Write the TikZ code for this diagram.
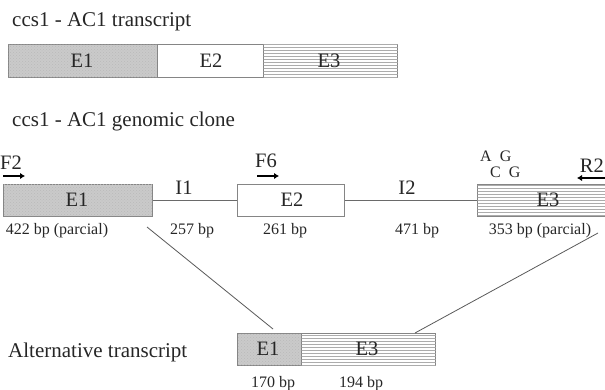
\documentclass[tikz,border=0pt]{standalone}
\usepackage{fontspec}
\setmainfont{Liberation Serif}
\usetikzlibrary{patterns,arrows.meta}
\definecolor{txt}{HTML}{262626}
\definecolor{edge}{HTML}{858585}
\definecolor{dotfill}{HTML}{CACACA}
\tikzset{
  ttl/.style={anchor=base west, inner sep=0pt, text=txt, font=\fontsize{21}{24}\selectfont},
  lbl/.style={inner sep=0pt, text=txt, font=\fontsize{20.5}{24}\selectfont},
  small/.style={anchor=base, inner sep=0pt, text=txt, font=\fontsize{16}{19}\selectfont},
  exon/.style={draw=edge, line width=1.2pt, inner sep=0pt, anchor=north west},
  dotbox/.style={exon, fill=dotfill, postaction={pattern=crosshatch dots, pattern color=gray!55}},
  linebox/.style={exon, fill=white, postaction={pattern=horizontal lines, pattern color=gray!65}},
  plainbox/.style={exon, fill=white},
  intron/.style={draw=edge!80!black, line width=0.9pt},
  diag/.style={draw=gray!70!black, line width=0.8pt},
  primer/.style={line width=2.8pt, -{Latex[length=5pt,width=6.5pt]}, draw=black},
}
\begin{document}
\begin{tikzpicture}[x=1pt,y=-1pt]
\useasboundingbox (0,0) rectangle (605,390);
\clip (0,0) rectangle (605,390);
% --- transcript
\node[ttl] (t1) at (12,27) {ccs1 - AC1 transcript};
\node[dotbox, minimum width=149pt, minimum height=33pt] (te1) at (8,44) {};
\node[plainbox, minimum width=106pt, minimum height=33pt] (te2) at (157,44) {};
\node[linebox, minimum width=134pt, minimum height=33pt] (te3) at (263,44) {};
\node[lbl] (te1l) at (82,61) {E1};
\node[lbl] (te2l) at (211,61) {E2};
\node[lbl] (te3l) at (329,61) {E3};
% --- genomic clone
\node[ttl] (t2) at (12,127) {ccs1 - AC1 genomic clone};
\node[dotbox, minimum width=149pt, minimum height=32pt] (ge1) at (3,184) {};
\node[plainbox, minimum width=107pt, minimum height=32pt] (ge2) at (237,184) {};
\node[linebox, minimum width=140pt, minimum height=32pt] (ge3) at (477,184) {};
\draw[intron] (ge1.east) -- (ge2.west);
\draw[intron] (ge2.east) -- (ge3.west);
\node[lbl] (ge1l) at (77,200) {E1};
\node[lbl] (ge2l) at (292,200) {E2};
\node[lbl] (ge3l) at (548,200) {E3};
\node[lbl, anchor=base] (i1) at (184,195) {I1};
\node[lbl, anchor=base] (i2) at (407,195) {I2};
\node[small] (b1) at (57,235) {422 bp (parcial)};
\node[small] (b2) at (192,235) {257 bp};
\node[small] (b3) at (285,235) {261 bp};
\node[small] (b4) at (417,235) {471 bp};
\node[small] (b5) at (540,235) {353 bp (parcial)};
% primers
\node[lbl, anchor=base west] (f2) at (0,170) {F2};
\coordinate (f2a) at (3,176); \coordinate (f2b) at (25,176);
\draw[primer] (f2a) -- (f2b);
\node[lbl, anchor=base west] (f6) at (255,168) {F6};
\coordinate (f6a) at (257,176); \coordinate (f6b) at (279,176);
\draw[primer] (f6a) -- (f6b);
\node[lbl, anchor=base east] (r2) at (604,173) {R2};
\coordinate (r2a) at (606,178); \coordinate (r2b) at (577,178);
\draw[primer] (r2a) -- (r2b);
\node[small, anchor=base west] (ag) at (480,162) {A\ \ G};
\node[small, anchor=base west] (cg) at (490,178) {C\ \ G};
% --- alternative transcript
\node[ttl] (t3) at (8,357) {Alternative transcript};
\node[dotbox, minimum width=64pt, minimum height=32pt] (ae1) at (237,333) {};
\node[linebox, minimum width=134pt, minimum height=32pt] (ae3) at (301,333) {};
\node[lbl] (ae1l) at (268,349) {E1};
\node[lbl] (ae3l) at (367,349) {E3};
\node[small] (c1) at (273,387) {170 bp};
\node[small] (c2) at (361,387) {194 bp};
% splicing lines
\coordinate (s1) at (147,227); \coordinate (s2) at (273,329);
\coordinate (s3) at (598,233); \coordinate (s4) at (415,333);
\draw[diag] (s1) -- (s2);
\draw[diag] (s3) -- (s4);
\end{tikzpicture}
\end{document}
